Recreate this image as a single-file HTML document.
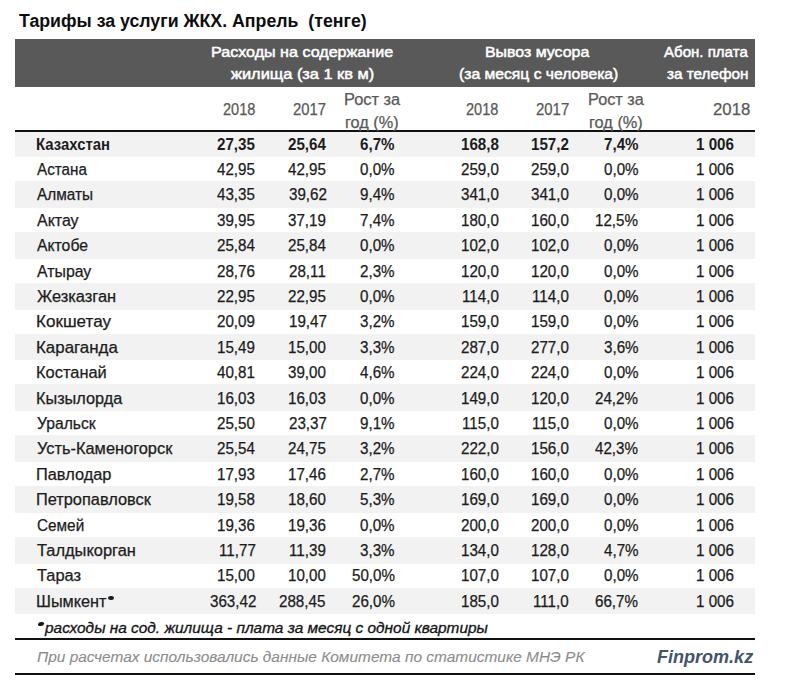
<!DOCTYPE html><html><head><meta charset="utf-8"><style>
html,body{margin:0;padding:0;background:#fff;width:800px;height:684px;overflow:hidden;position:relative;font-family:"Liberation Sans", sans-serif;}
.t{position:absolute;line-height:0;white-space:nowrap;transform-origin:0 0;}
.s{-webkit-text-stroke:0.25px currentColor;}
.r{position:absolute;}
</style></head><body>
<div class="r" style="left:15px;top:39px;width:740px;height:48px;background:#595959"></div>
<div class="r" style="left:15px;top:130px;width:740px;height:2px;background:#111"></div>
<div class="r" style="left:15px;top:132px;width:740px;height:25px;background:#f2f2f2"></div>
<div class="r" style="left:15px;top:181px;width:740px;height:27px;background:#f2f2f2"></div>
<div class="r" style="left:15px;top:232px;width:740px;height:27px;background:#f2f2f2"></div>
<div class="r" style="left:15px;top:283px;width:740px;height:27px;background:#f2f2f2"></div>
<div class="r" style="left:15px;top:334px;width:740px;height:26px;background:#f2f2f2"></div>
<div class="r" style="left:15px;top:384px;width:740px;height:27px;background:#f2f2f2"></div>
<div class="r" style="left:15px;top:435px;width:740px;height:27px;background:#f2f2f2"></div>
<div class="r" style="left:15px;top:486px;width:740px;height:27px;background:#f2f2f2"></div>
<div class="r" style="left:15px;top:537px;width:740px;height:27px;background:#f2f2f2"></div>
<div class="r" style="left:15px;top:588px;width:740px;height:26px;background:#f2f2f2"></div>
<div class="r" style="left:15px;top:638px;width:740px;height:2px;background:#111"></div>
<div class="r" style="left:15px;top:673px;width:740px;height:2px;background:#111"></div>
<div class="r" style="left:108.3px;top:596px;width:5.6px;height:4.4px;border-radius:50%;background:#1c1c1c"></div>
<div class="r" style="left:38.2px;top:621.8px;width:6px;height:4.4px;border-radius:50%;background:#141414;transform:skewX(-15deg)"></div>
<div class="t" style="left:19.30px;top:21px;font-size:18px;color:#0d0d0d;font-weight:bold;transform:scaleX(0.9860);">Тарифы за услуги ЖКХ. Апрель  (тенге)</div>
<div class="t" style="left:210.84px;top:52px;font-size:15.2px;color:#ffffff;-webkit-text-stroke:0.5px currentColor;transform:scaleX(1.0601);">Расходы на содержание</div>
<div class="t" style="left:230.60px;top:74px;font-size:15.2px;color:#ffffff;-webkit-text-stroke:0.5px currentColor;transform:scaleX(1.0773);">жилища (за 1 кв м)</div>
<div class="t" style="left:485.20px;top:52px;font-size:15.2px;color:#ffffff;-webkit-text-stroke:0.5px currentColor;transform:scaleX(1.0470);">Вывоз мусора</div>
<div class="t" style="left:458.75px;top:74px;font-size:15.2px;color:#ffffff;-webkit-text-stroke:0.5px currentColor;transform:scaleX(1.0326);">(за месяц с человека)</div>
<div class="t" style="left:664.00px;top:52px;font-size:15.2px;color:#ffffff;-webkit-text-stroke:0.5px currentColor;transform:scaleX(0.9908);">Абон. плата</div>
<div class="t" style="left:666.70px;top:74px;font-size:15.2px;color:#ffffff;-webkit-text-stroke:0.5px currentColor;transform:scaleX(1.0049);">за телефон</div>
<div class="t s" style="left:222.80px;top:110px;font-size:15.8px;color:#595959;transform:scaleX(0.9220);">2018</div>
<div class="t s" style="left:293.40px;top:110px;font-size:15.8px;color:#595959;transform:scaleX(0.9401);">2017</div>
<div class="t s" style="left:343.86px;top:100px;font-size:15.8px;color:#595959;transform:scaleX(1.0357);">Рост за</div>
<div class="t s" style="left:345.07px;top:123px;font-size:15.8px;color:#595959;transform:scaleX(1.0322);">год (%)</div>
<div class="t s" style="left:465.50px;top:110px;font-size:15.8px;color:#595959;transform:scaleX(0.9192);">2018</div>
<div class="t s" style="left:536.25px;top:110px;font-size:15.8px;color:#595959;transform:scaleX(0.9460);">2017</div>
<div class="t s" style="left:587.72px;top:100px;font-size:15.8px;color:#595959;transform:scaleX(1.0301);">Рост за</div>
<div class="t s" style="left:588.97px;top:123px;font-size:15.8px;color:#595959;transform:scaleX(1.0342);">год (%)</div>
<div class="t s" style="left:712.90px;top:110px;font-size:15.8px;color:#595959;transform:scaleX(1.0606);">2018</div>
<div class="t" style="left:35.86px;top:145px;font-size:15.8px;color:#1c1c1c;font-weight:bold;transform:scaleX(0.9436);">Казахстан</div>
<div class="t" style="left:217.14px;top:145px;font-size:15.8px;color:#1c1c1c;font-weight:bold;transform:scaleX(0.9600);">27,35</div>
<div class="t" style="left:287.64px;top:145px;font-size:15.8px;color:#1c1c1c;font-weight:bold;transform:scaleX(0.9600);">25,64</div>
<div class="t" style="left:360.28px;top:145px;font-size:15.8px;color:#1c1c1c;font-weight:bold;transform:scaleX(0.9600);">6,7%</div>
<div class="t" style="left:460.64px;top:145px;font-size:15.8px;color:#1c1c1c;font-weight:bold;transform:scaleX(0.9600);">168,8</div>
<div class="t" style="left:530.84px;top:145px;font-size:15.8px;color:#1c1c1c;font-weight:bold;transform:scaleX(0.9600);">157,2</div>
<div class="t" style="left:603.78px;top:145px;font-size:15.8px;color:#1c1c1c;font-weight:bold;transform:scaleX(0.9600);">7,4%</div>
<div class="t" style="left:695.84px;top:145px;font-size:15.8px;color:#1c1c1c;font-weight:bold;transform:scaleX(0.9600);">1 006</div>
<div class="t s" style="left:36.80px;top:170px;font-size:15.8px;color:#1c1c1c;transform:scaleX(0.9634);">Астана</div>
<div class="t s" style="left:217.14px;top:170px;font-size:15.8px;color:#1c1c1c;transform:scaleX(0.9600);">42,95</div>
<div class="t s" style="left:287.64px;top:170px;font-size:15.8px;color:#1c1c1c;transform:scaleX(0.9600);">42,95</div>
<div class="t s" style="left:360.28px;top:170px;font-size:15.8px;color:#1c1c1c;transform:scaleX(0.9600);">0,0%</div>
<div class="t s" style="left:460.64px;top:170px;font-size:15.8px;color:#1c1c1c;transform:scaleX(0.9600);">259,0</div>
<div class="t s" style="left:530.84px;top:170px;font-size:15.8px;color:#1c1c1c;transform:scaleX(0.9600);">259,0</div>
<div class="t s" style="left:603.78px;top:170px;font-size:15.8px;color:#1c1c1c;transform:scaleX(0.9600);">0,0%</div>
<div class="t s" style="left:695.84px;top:170px;font-size:15.8px;color:#1c1c1c;transform:scaleX(0.9600);">1 006</div>
<div class="t s" style="left:36.80px;top:195px;font-size:15.8px;color:#1c1c1c;transform:scaleX(0.9705);">Алматы</div>
<div class="t s" style="left:217.14px;top:195px;font-size:15.8px;color:#1c1c1c;transform:scaleX(0.9600);">43,35</div>
<div class="t s" style="left:288.60px;top:195px;font-size:15.8px;color:#1c1c1c;transform:scaleX(0.9600);">39,62</div>
<div class="t s" style="left:360.28px;top:195px;font-size:15.8px;color:#1c1c1c;transform:scaleX(0.9600);">9,4%</div>
<div class="t s" style="left:460.64px;top:195px;font-size:15.8px;color:#1c1c1c;transform:scaleX(0.9600);">341,0</div>
<div class="t s" style="left:530.84px;top:195px;font-size:15.8px;color:#1c1c1c;transform:scaleX(0.9600);">341,0</div>
<div class="t s" style="left:603.78px;top:195px;font-size:15.8px;color:#1c1c1c;transform:scaleX(0.9600);">0,0%</div>
<div class="t s" style="left:695.84px;top:195px;font-size:15.8px;color:#1c1c1c;transform:scaleX(0.9600);">1 006</div>
<div class="t s" style="left:36.80px;top:221px;font-size:15.8px;color:#1c1c1c;transform:scaleX(1.0099);">Актау</div>
<div class="t s" style="left:217.14px;top:221px;font-size:15.8px;color:#1c1c1c;transform:scaleX(0.9600);">39,95</div>
<div class="t s" style="left:287.64px;top:221px;font-size:15.8px;color:#1c1c1c;transform:scaleX(0.9600);">37,19</div>
<div class="t s" style="left:360.28px;top:221px;font-size:15.8px;color:#1c1c1c;transform:scaleX(0.9600);">7,4%</div>
<div class="t s" style="left:460.64px;top:221px;font-size:15.8px;color:#1c1c1c;transform:scaleX(0.9600);">180,0</div>
<div class="t s" style="left:530.84px;top:221px;font-size:15.8px;color:#1c1c1c;transform:scaleX(0.9600);">160,0</div>
<div class="t s" style="left:595.34px;top:221px;font-size:15.8px;color:#1c1c1c;transform:scaleX(0.9600);">12,5%</div>
<div class="t s" style="left:695.84px;top:221px;font-size:15.8px;color:#1c1c1c;transform:scaleX(0.9600);">1 006</div>
<div class="t s" style="left:36.80px;top:246px;font-size:15.8px;color:#1c1c1c;transform:scaleX(0.9973);">Актобе</div>
<div class="t s" style="left:217.14px;top:246px;font-size:15.8px;color:#1c1c1c;transform:scaleX(0.9600);">25,84</div>
<div class="t s" style="left:287.64px;top:246px;font-size:15.8px;color:#1c1c1c;transform:scaleX(0.9600);">25,84</div>
<div class="t s" style="left:360.28px;top:246px;font-size:15.8px;color:#1c1c1c;transform:scaleX(0.9600);">0,0%</div>
<div class="t s" style="left:460.64px;top:246px;font-size:15.8px;color:#1c1c1c;transform:scaleX(0.9600);">102,0</div>
<div class="t s" style="left:530.84px;top:246px;font-size:15.8px;color:#1c1c1c;transform:scaleX(0.9600);">102,0</div>
<div class="t s" style="left:603.78px;top:246px;font-size:15.8px;color:#1c1c1c;transform:scaleX(0.9600);">0,0%</div>
<div class="t s" style="left:695.84px;top:246px;font-size:15.8px;color:#1c1c1c;transform:scaleX(0.9600);">1 006</div>
<div class="t s" style="left:36.80px;top:272px;font-size:15.8px;color:#1c1c1c;transform:scaleX(1.0042);">Атырау</div>
<div class="t s" style="left:217.14px;top:272px;font-size:15.8px;color:#1c1c1c;transform:scaleX(0.9600);">28,76</div>
<div class="t s" style="left:288.77px;top:272px;font-size:15.8px;color:#1c1c1c;transform:scaleX(0.9600);">28,11</div>
<div class="t s" style="left:360.28px;top:272px;font-size:15.8px;color:#1c1c1c;transform:scaleX(0.9600);">2,3%</div>
<div class="t s" style="left:460.64px;top:272px;font-size:15.8px;color:#1c1c1c;transform:scaleX(0.9600);">120,0</div>
<div class="t s" style="left:530.84px;top:272px;font-size:15.8px;color:#1c1c1c;transform:scaleX(0.9600);">120,0</div>
<div class="t s" style="left:603.78px;top:272px;font-size:15.8px;color:#1c1c1c;transform:scaleX(0.9600);">0,0%</div>
<div class="t s" style="left:695.84px;top:272px;font-size:15.8px;color:#1c1c1c;transform:scaleX(0.9600);">1 006</div>
<div class="t s" style="left:36.80px;top:297px;font-size:15.8px;color:#1c1c1c;transform:scaleX(1.0400);">Жезказган</div>
<div class="t s" style="left:217.14px;top:297px;font-size:15.8px;color:#1c1c1c;transform:scaleX(0.9600);">22,95</div>
<div class="t s" style="left:287.64px;top:297px;font-size:15.8px;color:#1c1c1c;transform:scaleX(0.9600);">22,95</div>
<div class="t s" style="left:360.28px;top:297px;font-size:15.8px;color:#1c1c1c;transform:scaleX(0.9600);">0,0%</div>
<div class="t s" style="left:461.77px;top:297px;font-size:15.8px;color:#1c1c1c;transform:scaleX(0.9600);">114,0</div>
<div class="t s" style="left:531.97px;top:297px;font-size:15.8px;color:#1c1c1c;transform:scaleX(0.9600);">114,0</div>
<div class="t s" style="left:603.78px;top:297px;font-size:15.8px;color:#1c1c1c;transform:scaleX(0.9600);">0,0%</div>
<div class="t s" style="left:695.84px;top:297px;font-size:15.8px;color:#1c1c1c;transform:scaleX(0.9600);">1 006</div>
<div class="t s" style="left:35.72px;top:322px;font-size:15.8px;color:#1c1c1c;transform:scaleX(1.0803);">Кокшетау</div>
<div class="t s" style="left:217.14px;top:322px;font-size:15.8px;color:#1c1c1c;transform:scaleX(0.9600);">20,09</div>
<div class="t s" style="left:288.60px;top:322px;font-size:15.8px;color:#1c1c1c;transform:scaleX(0.9600);">19,47</div>
<div class="t s" style="left:360.28px;top:322px;font-size:15.8px;color:#1c1c1c;transform:scaleX(0.9600);">3,2%</div>
<div class="t s" style="left:460.64px;top:322px;font-size:15.8px;color:#1c1c1c;transform:scaleX(0.9600);">159,0</div>
<div class="t s" style="left:530.84px;top:322px;font-size:15.8px;color:#1c1c1c;transform:scaleX(0.9600);">159,0</div>
<div class="t s" style="left:603.78px;top:322px;font-size:15.8px;color:#1c1c1c;transform:scaleX(0.9600);">0,0%</div>
<div class="t s" style="left:695.84px;top:322px;font-size:15.8px;color:#1c1c1c;transform:scaleX(0.9600);">1 006</div>
<div class="t s" style="left:35.73px;top:348px;font-size:15.8px;color:#1c1c1c;transform:scaleX(1.0700);">Караганда</div>
<div class="t s" style="left:217.14px;top:348px;font-size:15.8px;color:#1c1c1c;transform:scaleX(0.9600);">15,49</div>
<div class="t s" style="left:287.64px;top:348px;font-size:15.8px;color:#1c1c1c;transform:scaleX(0.9600);">15,00</div>
<div class="t s" style="left:360.28px;top:348px;font-size:15.8px;color:#1c1c1c;transform:scaleX(0.9600);">3,3%</div>
<div class="t s" style="left:460.64px;top:348px;font-size:15.8px;color:#1c1c1c;transform:scaleX(0.9600);">287,0</div>
<div class="t s" style="left:530.84px;top:348px;font-size:15.8px;color:#1c1c1c;transform:scaleX(0.9600);">277,0</div>
<div class="t s" style="left:603.78px;top:348px;font-size:15.8px;color:#1c1c1c;transform:scaleX(0.9600);">3,6%</div>
<div class="t s" style="left:695.84px;top:348px;font-size:15.8px;color:#1c1c1c;transform:scaleX(0.9600);">1 006</div>
<div class="t s" style="left:35.76px;top:373px;font-size:15.8px;color:#1c1c1c;transform:scaleX(1.0402);">Костанай</div>
<div class="t s" style="left:217.14px;top:373px;font-size:15.8px;color:#1c1c1c;transform:scaleX(0.9600);">40,81</div>
<div class="t s" style="left:287.64px;top:373px;font-size:15.8px;color:#1c1c1c;transform:scaleX(0.9600);">39,00</div>
<div class="t s" style="left:360.28px;top:373px;font-size:15.8px;color:#1c1c1c;transform:scaleX(0.9600);">4,6%</div>
<div class="t s" style="left:460.64px;top:373px;font-size:15.8px;color:#1c1c1c;transform:scaleX(0.9600);">224,0</div>
<div class="t s" style="left:530.84px;top:373px;font-size:15.8px;color:#1c1c1c;transform:scaleX(0.9600);">224,0</div>
<div class="t s" style="left:603.78px;top:373px;font-size:15.8px;color:#1c1c1c;transform:scaleX(0.9600);">0,0%</div>
<div class="t s" style="left:695.84px;top:373px;font-size:15.8px;color:#1c1c1c;transform:scaleX(0.9600);">1 006</div>
<div class="t s" style="left:35.77px;top:399px;font-size:15.8px;color:#1c1c1c;transform:scaleX(1.0292);">Кызылорда</div>
<div class="t s" style="left:217.14px;top:399px;font-size:15.8px;color:#1c1c1c;transform:scaleX(0.9600);">16,03</div>
<div class="t s" style="left:287.64px;top:399px;font-size:15.8px;color:#1c1c1c;transform:scaleX(0.9600);">16,03</div>
<div class="t s" style="left:360.28px;top:399px;font-size:15.8px;color:#1c1c1c;transform:scaleX(0.9600);">0,0%</div>
<div class="t s" style="left:460.64px;top:399px;font-size:15.8px;color:#1c1c1c;transform:scaleX(0.9600);">149,0</div>
<div class="t s" style="left:530.84px;top:399px;font-size:15.8px;color:#1c1c1c;transform:scaleX(0.9600);">120,0</div>
<div class="t s" style="left:595.34px;top:399px;font-size:15.8px;color:#1c1c1c;transform:scaleX(0.9600);">24,2%</div>
<div class="t s" style="left:695.84px;top:399px;font-size:15.8px;color:#1c1c1c;transform:scaleX(0.9600);">1 006</div>
<div class="t s" style="left:36.80px;top:424px;font-size:15.8px;color:#1c1c1c;transform:scaleX(0.9925);">Уральск</div>
<div class="t s" style="left:217.14px;top:424px;font-size:15.8px;color:#1c1c1c;transform:scaleX(0.9600);">25,50</div>
<div class="t s" style="left:288.60px;top:424px;font-size:15.8px;color:#1c1c1c;transform:scaleX(0.9600);">23,37</div>
<div class="t s" style="left:360.28px;top:424px;font-size:15.8px;color:#1c1c1c;transform:scaleX(0.9600);">9,1%</div>
<div class="t s" style="left:461.77px;top:424px;font-size:15.8px;color:#1c1c1c;transform:scaleX(0.9600);">115,0</div>
<div class="t s" style="left:531.97px;top:424px;font-size:15.8px;color:#1c1c1c;transform:scaleX(0.9600);">115,0</div>
<div class="t s" style="left:603.78px;top:424px;font-size:15.8px;color:#1c1c1c;transform:scaleX(0.9600);">0,0%</div>
<div class="t s" style="left:695.84px;top:424px;font-size:15.8px;color:#1c1c1c;transform:scaleX(0.9600);">1 006</div>
<div class="t s" style="left:36.80px;top:449px;font-size:15.8px;color:#1c1c1c;transform:scaleX(1.0365);">Усть-Каменогорск</div>
<div class="t s" style="left:217.14px;top:449px;font-size:15.8px;color:#1c1c1c;transform:scaleX(0.9600);">25,54</div>
<div class="t s" style="left:287.64px;top:449px;font-size:15.8px;color:#1c1c1c;transform:scaleX(0.9600);">24,75</div>
<div class="t s" style="left:360.28px;top:449px;font-size:15.8px;color:#1c1c1c;transform:scaleX(0.9600);">3,2%</div>
<div class="t s" style="left:460.64px;top:449px;font-size:15.8px;color:#1c1c1c;transform:scaleX(0.9600);">222,0</div>
<div class="t s" style="left:530.84px;top:449px;font-size:15.8px;color:#1c1c1c;transform:scaleX(0.9600);">156,0</div>
<div class="t s" style="left:595.34px;top:449px;font-size:15.8px;color:#1c1c1c;transform:scaleX(0.9600);">42,3%</div>
<div class="t s" style="left:695.84px;top:449px;font-size:15.8px;color:#1c1c1c;transform:scaleX(0.9600);">1 006</div>
<div class="t s" style="left:35.76px;top:475px;font-size:15.8px;color:#1c1c1c;transform:scaleX(1.0360);">Павлодар</div>
<div class="t s" style="left:217.14px;top:475px;font-size:15.8px;color:#1c1c1c;transform:scaleX(0.9600);">17,93</div>
<div class="t s" style="left:287.64px;top:475px;font-size:15.8px;color:#1c1c1c;transform:scaleX(0.9600);">17,46</div>
<div class="t s" style="left:360.28px;top:475px;font-size:15.8px;color:#1c1c1c;transform:scaleX(0.9600);">2,7%</div>
<div class="t s" style="left:460.64px;top:475px;font-size:15.8px;color:#1c1c1c;transform:scaleX(0.9600);">160,0</div>
<div class="t s" style="left:530.84px;top:475px;font-size:15.8px;color:#1c1c1c;transform:scaleX(0.9600);">160,0</div>
<div class="t s" style="left:603.78px;top:475px;font-size:15.8px;color:#1c1c1c;transform:scaleX(0.9600);">0,0%</div>
<div class="t s" style="left:695.84px;top:475px;font-size:15.8px;color:#1c1c1c;transform:scaleX(0.9600);">1 006</div>
<div class="t s" style="left:35.77px;top:500px;font-size:15.8px;color:#1c1c1c;transform:scaleX(1.0347);">Петропавловск</div>
<div class="t s" style="left:217.14px;top:500px;font-size:15.8px;color:#1c1c1c;transform:scaleX(0.9600);">19,58</div>
<div class="t s" style="left:287.64px;top:500px;font-size:15.8px;color:#1c1c1c;transform:scaleX(0.9600);">18,60</div>
<div class="t s" style="left:360.28px;top:500px;font-size:15.8px;color:#1c1c1c;transform:scaleX(0.9600);">5,3%</div>
<div class="t s" style="left:460.64px;top:500px;font-size:15.8px;color:#1c1c1c;transform:scaleX(0.9600);">169,0</div>
<div class="t s" style="left:530.84px;top:500px;font-size:15.8px;color:#1c1c1c;transform:scaleX(0.9600);">169,0</div>
<div class="t s" style="left:603.78px;top:500px;font-size:15.8px;color:#1c1c1c;transform:scaleX(0.9600);">0,0%</div>
<div class="t s" style="left:695.84px;top:500px;font-size:15.8px;color:#1c1c1c;transform:scaleX(0.9600);">1 006</div>
<div class="t s" style="left:36.80px;top:526px;font-size:15.8px;color:#1c1c1c;transform:scaleX(0.9699);">Семей</div>
<div class="t s" style="left:217.14px;top:526px;font-size:15.8px;color:#1c1c1c;transform:scaleX(0.9600);">19,36</div>
<div class="t s" style="left:287.64px;top:526px;font-size:15.8px;color:#1c1c1c;transform:scaleX(0.9600);">19,36</div>
<div class="t s" style="left:360.28px;top:526px;font-size:15.8px;color:#1c1c1c;transform:scaleX(0.9600);">0,0%</div>
<div class="t s" style="left:460.64px;top:526px;font-size:15.8px;color:#1c1c1c;transform:scaleX(0.9600);">200,0</div>
<div class="t s" style="left:530.84px;top:526px;font-size:15.8px;color:#1c1c1c;transform:scaleX(0.9600);">200,0</div>
<div class="t s" style="left:603.78px;top:526px;font-size:15.8px;color:#1c1c1c;transform:scaleX(0.9600);">0,0%</div>
<div class="t s" style="left:695.84px;top:526px;font-size:15.8px;color:#1c1c1c;transform:scaleX(0.9600);">1 006</div>
<div class="t s" style="left:36.80px;top:551px;font-size:15.8px;color:#1c1c1c;transform:scaleX(1.0405);">Талдыкорган</div>
<div class="t s" style="left:219.23px;top:551px;font-size:15.8px;color:#1c1c1c;transform:scaleX(0.9600);">11,77</div>
<div class="t s" style="left:288.77px;top:551px;font-size:15.8px;color:#1c1c1c;transform:scaleX(0.9600);">11,39</div>
<div class="t s" style="left:360.28px;top:551px;font-size:15.8px;color:#1c1c1c;transform:scaleX(0.9600);">3,3%</div>
<div class="t s" style="left:460.64px;top:551px;font-size:15.8px;color:#1c1c1c;transform:scaleX(0.9600);">134,0</div>
<div class="t s" style="left:530.84px;top:551px;font-size:15.8px;color:#1c1c1c;transform:scaleX(0.9600);">128,0</div>
<div class="t s" style="left:603.78px;top:551px;font-size:15.8px;color:#1c1c1c;transform:scaleX(0.9600);">4,7%</div>
<div class="t s" style="left:695.84px;top:551px;font-size:15.8px;color:#1c1c1c;transform:scaleX(0.9600);">1 006</div>
<div class="t s" style="left:36.80px;top:576px;font-size:15.8px;color:#1c1c1c;transform:scaleX(1.0399);">Тараз</div>
<div class="t s" style="left:217.14px;top:576px;font-size:15.8px;color:#1c1c1c;transform:scaleX(0.9600);">15,00</div>
<div class="t s" style="left:287.64px;top:576px;font-size:15.8px;color:#1c1c1c;transform:scaleX(0.9600);">10,00</div>
<div class="t s" style="left:351.84px;top:576px;font-size:15.8px;color:#1c1c1c;transform:scaleX(0.9600);">50,0%</div>
<div class="t s" style="left:460.64px;top:576px;font-size:15.8px;color:#1c1c1c;transform:scaleX(0.9600);">107,0</div>
<div class="t s" style="left:530.84px;top:576px;font-size:15.8px;color:#1c1c1c;transform:scaleX(0.9600);">107,0</div>
<div class="t s" style="left:603.78px;top:576px;font-size:15.8px;color:#1c1c1c;transform:scaleX(0.9600);">0,0%</div>
<div class="t s" style="left:695.84px;top:576px;font-size:15.8px;color:#1c1c1c;transform:scaleX(0.9600);">1 006</div>
<div class="t s" style="left:35.77px;top:602px;font-size:15.8px;color:#1c1c1c;transform:scaleX(1.0284);">Шымкент</div>
<div class="t s" style="left:209.67px;top:602px;font-size:15.8px;color:#1c1c1c;transform:scaleX(0.9600);">363,42</div>
<div class="t s" style="left:279.21px;top:602px;font-size:15.8px;color:#1c1c1c;transform:scaleX(0.9600);">288,45</div>
<div class="t s" style="left:351.84px;top:602px;font-size:15.8px;color:#1c1c1c;transform:scaleX(0.9600);">26,0%</div>
<div class="t s" style="left:460.64px;top:602px;font-size:15.8px;color:#1c1c1c;transform:scaleX(0.9600);">185,0</div>
<div class="t s" style="left:533.10px;top:602px;font-size:15.8px;color:#1c1c1c;transform:scaleX(0.9600);">111,0</div>
<div class="t s" style="left:595.34px;top:602px;font-size:15.8px;color:#1c1c1c;transform:scaleX(0.9600);">66,7%</div>
<div class="t s" style="left:695.84px;top:602px;font-size:15.8px;color:#1c1c1c;transform:scaleX(0.9600);">1 006</div>
<div class="t" style="left:45.49px;top:628px;font-size:15.5px;color:#141414;font-style:italic;-webkit-text-stroke:0.32px currentColor;transform:scaleX(0.9942);">расходы на сод. жилища - плата за месяц с одной квартиры</div>
<div class="t" style="left:36.75px;top:657px;font-size:15.5px;color:#8c8c8c;font-style:italic;-webkit-text-stroke:0.1px currentColor;transform:scaleX(0.9964);">При расчетах использовались данные Комитета по статистике МНЭ РК</div>
<div class="t" style="left:657.00px;top:657px;font-size:17.5px;color:#44546a;font-weight:bold;font-style:italic;transform:scaleX(1.0301);">Finprom.kz</div>
</body></html>
